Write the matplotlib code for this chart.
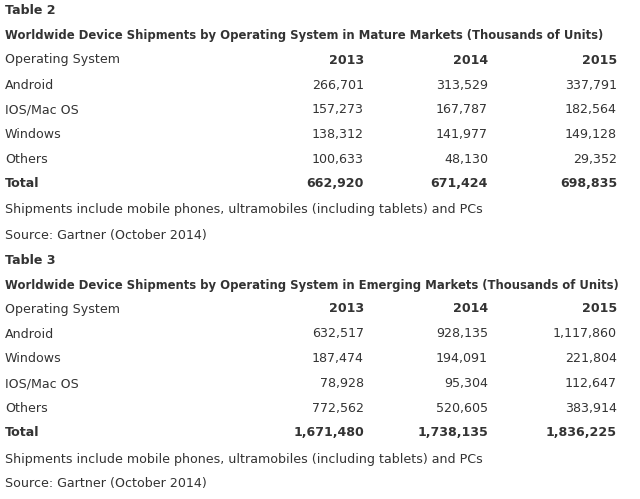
import matplotlib
matplotlib.use("Agg")
import matplotlib.pyplot as plt

years = ["2013", "2014", "2015"]
mature_os = ["Android", "IOS/Mac OS", "Windows", "Others"]
mature_vals = [["266,701", "313,529", "337,791"],
               ["157,273", "167,787", "182,564"],
               ["138,312", "141,977", "149,128"],
               ["100,633", "48,130", "29,352"]]
mature_total = ["662,920", "671,424", "698,835"]
emerg_os = ["Android", "Windows", "IOS/Mac OS", "Others"]
emerg_vals = [["632,517", "928,135", "1,117,860"],
              ["187,474", "194,091", "221,804"],
              ["78,928", "95,304", "112,647"],
              ["772,562", "520,605", "383,914"]]
emerg_total = ["1,671,480", "1,738,135", "1,836,225"]
note = "Shipments include mobile phones, ultramobiles (including tablets) and PCs"
source = "Source: Gartner (October 2014)"

W, H = 640, 499
fig = plt.figure(figsize=(W/100, H/100), dpi=100)
fig.patch.set_facecolor("white")
C = "#333333"
FS = 9.1
colx = [364, 488, 617]

def t(x, y, s, bold=False, ha="left", fs=FS):
    fig.text(x/W, 1 - y/H, s, ha=ha, va="center", fontsize=fs, color=C,
             fontweight="bold" if bold else "normal", family="DejaVu Sans")

def table(y0, num, title, osn, vals, total):
    t(5, y0, f"Table {num}", bold=True)
    t(5, y0+25, title, bold=True, fs=8.35)
    t(5, y0+49, "Operating System")
    for x, yr in zip(colx, years):
        t(x, y0+49, yr, bold=True, ha="right")
    for i, (n, row) in enumerate(zip(osn, vals)):
        y = y0 + 74 + 24.8*i
        t(5, y, n)
        for x, v in zip(colx, row):
            t(x, y, v, ha="right")
    y = y0 + 173
    t(5, y, "Total", bold=True)
    for x, v in zip(colx, total):
        t(x, y, v, bold=True, ha="right")
    t(5, y0+199, note)
    t(5, y0+224, source)

table(11, 2, "Worldwide Device Shipments by Operating System in Mature Markets (Thousands of Units)",
      mature_os, mature_vals, mature_total)
table(260, 3, "Worldwide Device Shipments by Operating System in Emerging Markets (Thousands of Units)",
      emerg_os, emerg_vals, emerg_total)

fig.savefig("out.png", dpi=100, facecolor="white")
